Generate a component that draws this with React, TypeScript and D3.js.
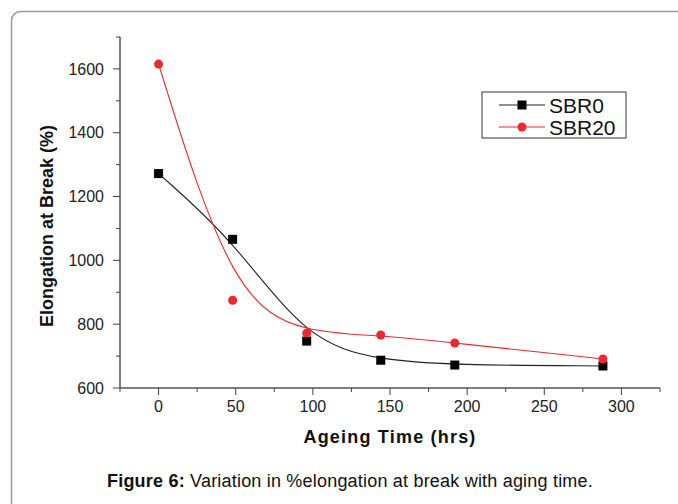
import React from "react";
import * as d3 from "d3";

const hours = [0, 48, 96, 144, 192, 288];
const sbr0 = [1272, 1066, 747, 687, 672, 669];
const sbr20 = [1615, 875, 772, 766, 741, 691];
const xTicks = [0, 50, 100, 150, 200, 250, 300];
const yTicks = [600, 800, 1000, 1200, 1400, 1600];
const xMinor = [-25, 25, 75, 125, 175, 225, 275, 325];
const yMinor = [700, 900, 1100, 1300, 1500, 1700];
const seriesNames = ["SBR0", "SBR20"];

const W = 678;
const H = 504;
const left = 120;
const right = 660;
const top = 37;
const bottom = 388;
const font = "Liberation Sans, Arial, sans-serif";

export default function App() {
  const x = d3.scaleLinear().domain([-25, 325]).range([left, right]);
  const y = d3.scaleLinear().domain([600, 1700]).range([bottom, top]);
  const line = d3
    .line<[number, number]>()
    .x((d) => x(d[0]))
    .y((d) => y(d[1]))
    .curve(d3.curveBasis);
  const d0 = hours.map((h, i) => [h, sbr0[i]] as [number, number]);
  const d20 = hours.map((h, i) => [h, sbr20[i]] as [number, number]);

  const legX = 482;
  const legY = 92;
  return (
    <svg
      width={W}
      height={H}
      style={{ position: "absolute", left: 0, top: 0, background: "#fff" }}
    >
      <rect x={11.5} y={11.5} width={W + 20} height={H + 20} rx={9} fill="#fff" stroke="#9a9a9a" strokeWidth={1.5} />
      {/* axes */}
      <line x1={left} x2={left} y1={top} y2={bottom} stroke="#555" strokeWidth={1.5} />
      <line x1={left} x2={right} y1={bottom} y2={bottom} stroke="#555" strokeWidth={1.5} />
      {yTicks.map((t) => (
        <g key={"yt" + t}>
          <line x1={left - 7} x2={left} y1={y(t)} y2={y(t)} stroke="#444" strokeWidth={1} />
          <text x={left - 16} y={y(t)} dy="0.36em" textAnchor="end" fontFamily={font} fontSize={16} fill="#222">
            {t}
          </text>
        </g>
      ))}
      {yMinor.map((t) => (
        <line key={"ym" + t} x1={left - 4} x2={left} y1={y(t)} y2={y(t)} stroke="#444" strokeWidth={1} />
      ))}
      {xTicks.map((t) => (
        <g key={"xt" + t}>
          <line x1={x(t)} x2={x(t)} y1={bottom} y2={bottom + 7} stroke="#444" strokeWidth={1} />
          <text x={x(t)} y={bottom + 24} textAnchor="middle" fontFamily={font} fontSize={16} fill="#222">
            {t}
          </text>
        </g>
      ))}
      {xMinor.map((t) => (
        <line key={"xm" + t} x1={x(t)} x2={x(t)} y1={bottom} y2={bottom + 4} stroke="#444" strokeWidth={1} />
      ))}
      <text x={390} y={443} textAnchor="middle" fontFamily={font} fontSize={18} fontWeight="bold" letterSpacing={1.2} fill="#111">
        Ageing Time (hrs)
      </text>
      <text
        transform={`translate(53,${226}) rotate(-90)`}
        textAnchor="middle"
        fontFamily={font}
        fontSize={18}
        fontWeight="bold"
        fill="#111"
      >
        Elongation at Break (%)
      </text>
      {/* curves */}
      <path d={line(d0) || ""} fill="none" stroke="#222" strokeWidth={1.1} />
      <path d={line(d20) || ""} fill="none" stroke="#f0282c" strokeWidth={1.1} />
      {d0.map((p, i) => (
        <rect key={"s" + i} x={x(p[0]) - 4.5} y={y(p[1]) - 4.5} width={9} height={9} fill="#000" />
      ))}
      {d20.map((p, i) => (
        <circle key={"c" + i} cx={x(p[0])} cy={y(p[1])} r={4.5} fill="#f0282c" />
      ))}
      {/* legend */}
      <rect x={legX} y={legY} width={144} height={46} fill="#fff" stroke="#333" strokeWidth={1} />
      <line x1={499} x2={545} y1={105} y2={105} stroke="#222" strokeWidth={1.1} />
      <rect x={522 - 4.5} y={105 - 4.5} width={9} height={9} fill="#000" />
      <text x={549} y={105} dy="0.36em" fontFamily={font} fontSize={21} fill="#111">
        {seriesNames[0]}
      </text>
      <line x1={499} x2={545} y1={127} y2={127} stroke="#f0282c" strokeWidth={1.1} />
      <circle cx={522} cy={127} r={4.5} fill="#f0282c" />
      <text x={549} y={127} dy="0.36em" fontFamily={font} fontSize={21} fill="#111">
        {seriesNames[1]}
      </text>
      {/* caption */}
      <text x={350} y={487} textAnchor="middle" fontFamily={font} fontSize={18} letterSpacing={0.2} fill="#111">
        <tspan fontWeight="bold">Figure 6:</tspan>
        <tspan> Variation in %elongation at break with aging time.</tspan>
      </text>
    </svg>
  );
}
